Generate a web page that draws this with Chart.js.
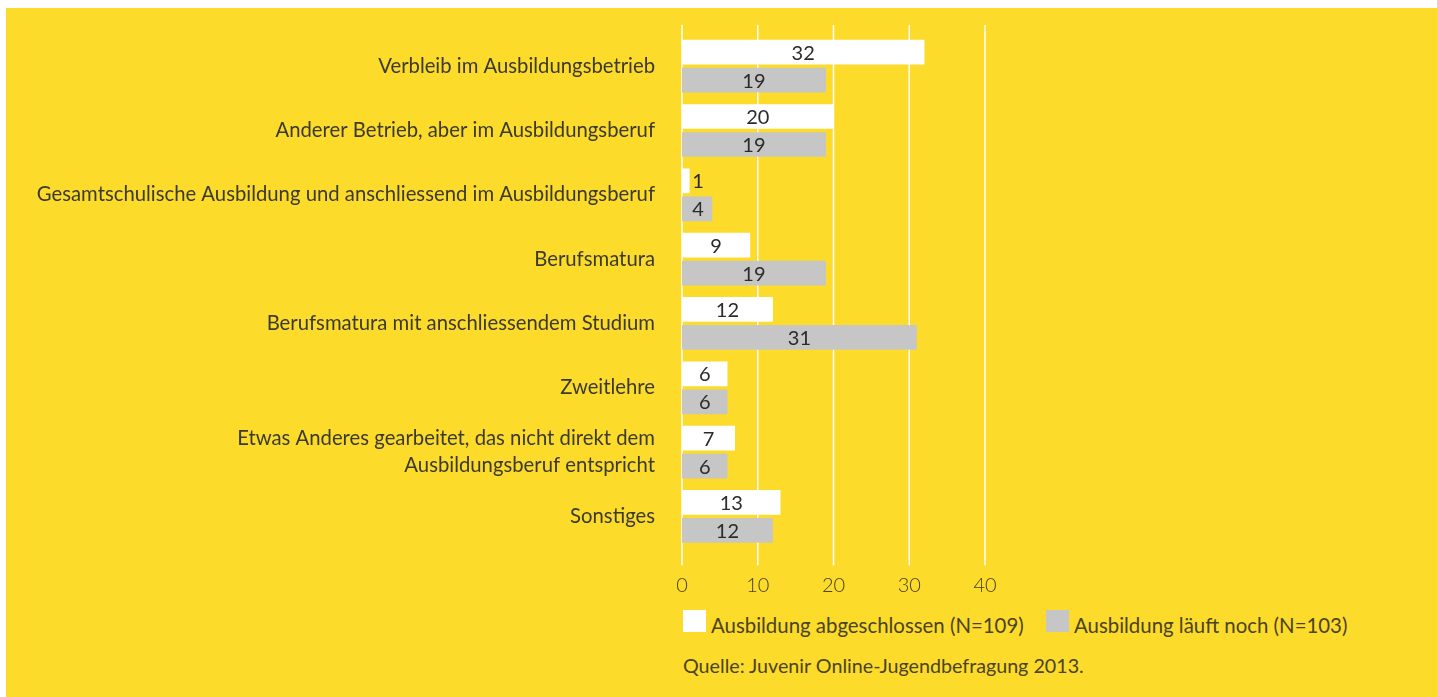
<!DOCTYPE html>
<html>
<head>
<meta charset="utf-8">
<script src="https://cdn.jsdelivr.net/npm/chart.js@4"></script>
<style>
  body { margin: 0; background: #fff; font-family: Lato, sans-serif; }
  #panel { position: absolute; left: 6px; top: 8px; width: 1431px; height: 689px; background: #FDDB2A; }
  #wrap { position: absolute; left: 0; top: 0; width: 1437px; height: 600px; }
  .leg { position: absolute; top: 610px; height: 22px; display: flex; align-items: center; font-size: 20.4px; color: #4a4324; white-space: nowrap; }
  .leg span.box { display: inline-block; width: 23px; height: 22px; margin-right: 5px; }
  #source { position: absolute; left: 683px; top: 654px; font-size: 19.7px; color: #4a4324; white-space: nowrap; }
</style>
</head>
<body>
<div id="panel"></div>
<div id="wrap"><canvas id="chart"></canvas></div>
<div class="leg" style="left:683px"><span class="box" style="background:#ffffff"></span><span style="padding-top:8px">Ausbildung abgeschlossen (N=109)</span></div>
<div class="leg" style="left:1046px"><span class="box" style="background:#c6c6c6"></span><span style="padding-top:8px">Ausbildung läuft noch (N=103)</span></div>
<div id="source">Quelle: Juvenir Online-Jugendbefragung 2013.</div>
<script>
const categories = [
  "Verbleib im Ausbildungsbetrieb",
  "Anderer Betrieb, aber im Ausbildungsberuf",
  "Gesamtschulische Ausbildung und anschliessend im Ausbildungsberuf",
  "Berufsmatura",
  "Berufsmatura mit anschliessendem Studium",
  "Zweitlehre",
  ["Etwas Anderes gearbeitet, das nicht direkt dem", "Ausbildungsberuf entspricht"],
  "Sonstiges"
];
const abgeschlossen = [32, 20, 1, 9, 12, 6, 7, 13];
const laeuftNoch = [19, 19, 4, 19, 31, 6, 6, 12];
const xTicks = [0, 10, 20, 30, 40];

// weisse Gitterlinien, etwas länger als die Zeichenfläche
const gridLines = {
  id: "gridLines",
  beforeDatasetsDraw(chart) {
    const x = chart.scales.x;
    const ctx = chart.ctx;
    ctx.save();
    ctx.strokeStyle = "#ffffff";
    ctx.lineWidth = 1.5;
    xTicks.forEach(v => {
      const px = x.getPixelForValue(v);
      ctx.beginPath();
      ctx.moveTo(px, 25);
      ctx.lineTo(px, chart.chartArea.bottom + 17);
      ctx.stroke();
    });
    ctx.restore();
  }
};

// Werte in den Balken
const barValues = {
  id: "barValues",
  afterDatasetsDraw(chart) {
    const ctx = chart.ctx;
    ctx.save();
    ctx.font = "20px Lato";
    ctx.fillStyle = "#2b2b2b";
    ctx.textAlign = "center";
    ctx.textBaseline = "middle";
    chart.data.datasets.forEach((ds, i) => {
      chart.getDatasetMeta(i).data.forEach((bar, j) => {
        const cx = Math.max((bar.base + bar.x) / 2, bar.base + 16);
        ctx.fillText(ds.data[j], cx, bar.y + 1);
      });
    });
    ctx.restore();
  }
};

const ctx = document.getElementById("chart").getContext("2d");
new Chart(ctx, {
  type: "bar",
  data: {
    labels: categories,
    datasets: [
      { label: "Ausbildung abgeschlossen (N=109)", data: abgeschlossen, backgroundColor: "#ffffff" },
      { label: "Ausbildung läuft noch (N=103)", data: laeuftNoch, backgroundColor: "#c6c6c6" }
    ]
  },
  options: {
    indexAxis: "y",
    responsive: true,
    maintainAspectRatio: false,
    animation: false,
    categoryPercentage: 0.871,
    barPercentage: 0.882,
    layout: { padding: { top: 34, right: 452, left: 0, bottom: 0 } },
    plugins: { legend: { display: false }, tooltip: { enabled: false } },
    scales: {
      x: {
        min: 0, max: 40,
        afterBuildTicks(scale) { scale.ticks = xTicks.map(v => ({ value: v })); },
        afterFit(scale) { scale.height = 600 - 548.6; scale.paddingLeft = 0; scale.paddingRight = 0; },
        grid: { display: false },
        border: { display: false },
        ticks: { padding: 17, color: "#4a4324", font: { family: "Lato", size: 20, weight: 300 } }
      },
      y: {
        afterFit(scale) { scale.width = 682; scale.paddingTop = 0; scale.paddingBottom = 0; },
        grid: { display: false, drawTicks: false },
        border: { display: false },
        ticks: { padding: 27, color: "#3b3a30", font: { family: "Lato", size: 20.3, lineHeight: 1.33 } }
      }
    }
  },
  plugins: [gridLines, barValues]
});
</script>
</body>
</html>
